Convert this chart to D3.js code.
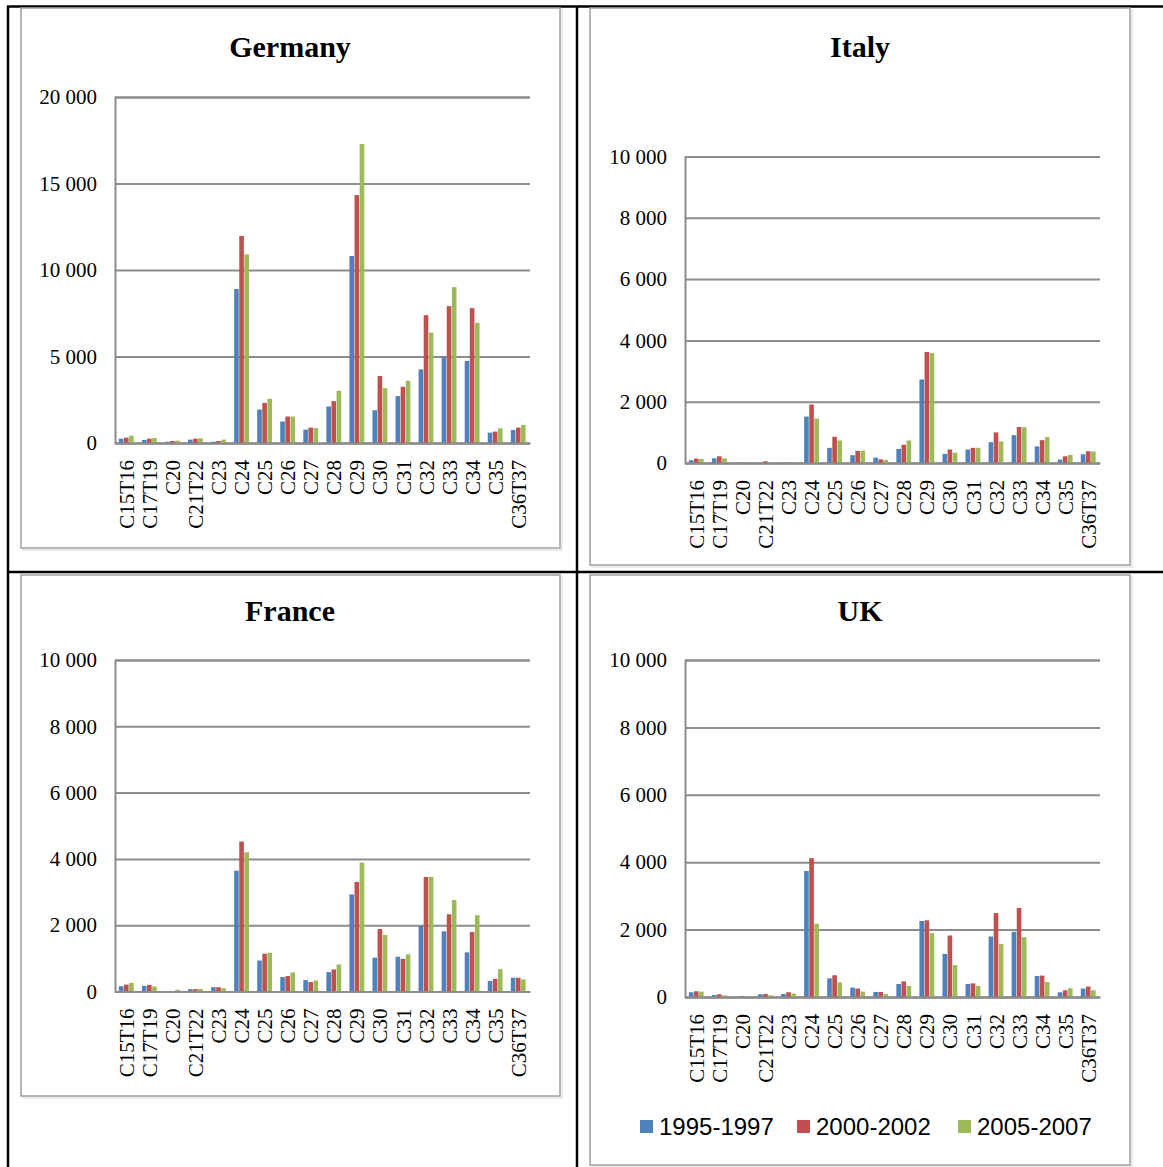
<!DOCTYPE html>
<html><head><meta charset="utf-8">
<script src="https://cdn.jsdelivr.net/npm/d3@7"></script>
<style>body{margin:0;background:#fff}svg{display:block}</style>
</head><body>
<svg id="c" width="1163" height="1167"></svg>
<script>
// ---------- DATA ----------
const categories = ["C15T16","C17T19","C20","C21T22","C23","C24","C25","C26","C27","C28","C29","C30","C31","C32","C33","C34","C35","C36T37"];
const periods = ["1995-1997","2000-2002","2005-2007"];

const germany_1995_1997 = [250,175,75,195,75,8900,1935,1240,775,2110,10810,1895,2710,4255,4990,4740,600,755];
const germany_2000_2002 = [310,250,115,250,115,11970,2320,1530,890,2420,14330,3870,3250,7390,7910,7795,660,890];
const germany_2005_2007 = [425,290,135,270,195,10910,2555,1530,870,3020,17280,3170,3600,6380,9010,6945,850,1045];

const italy_1995_1997 = [90,155,5,10,10,1515,495,255,175,460,2725,295,440,680,910,540,110,285];
const italy_2000_2002 = [145,220,10,55,10,1910,855,395,120,595,3620,440,495,1000,1175,745,220,385];
const italy_2005_2007 = [130,155,20,10,10,1450,735,405,100,735,3590,340,495,705,1165,845,265,375];

const france_1995_1997 = [160,170,10,70,130,3645,935,435,345,585,2930,1020,1050,1975,1815,1180,320,415];
const france_2000_2002 = [210,200,15,70,130,4525,1140,465,285,665,3305,1885,985,3455,2330,1795,385,415];
const france_2005_2007 = [260,150,55,80,100,4200,1170,575,335,815,3890,1705,1120,3455,2760,2305,675,365];

const uk_1995_1997 = [140,60,5,80,90,3740,555,280,150,385,2255,1280,385,1795,1935,625,140,250];
const uk_2000_2002 = [170,80,20,90,140,4120,645,250,150,465,2275,1825,405,2490,2640,635,200,310];
const uk_2005_2007 = [160,50,5,50,100,2175,435,160,90,330,1895,945,330,1570,1775,445,260,200];

const germanyTicks = [0,5000,10000,15000,20000];
const smallTicks = [0,2000,4000,6000,8000,10000];

// ---------- LAYOUT ----------
const colors = ["#4F81BD","#C0504D","#9BBB59"];
const panels = [
  {title:"Germany", series:[germany_1995_1997,germany_2000_2002,germany_2005_2007], ticks:germanyTicks,
   frame:[21,8,539,540], x0:115, x1:530, yTop:97, yBot:443, tx:290, ty:57},
  {title:"Italy", series:[italy_1995_1997,italy_2000_2002,italy_2005_2007], ticks:smallTicks,
   frame:[590,8,540,557], x0:685, x1:1100, yTop:156.5, yBot:463, tx:860, ty:57},
  {title:"France", series:[france_1995_1997,france_2000_2002,france_2005_2007], ticks:smallTicks,
   frame:[21,575,539,521], x0:115, x1:530, yTop:660, yBot:991.5, tx:290, ty:621},
  {title:"UK", series:[uk_1995_1997,uk_2000_2002,uk_2005_2007], ticks:smallTicks,
   frame:[590,575,540,590], x0:685, x1:1100, yTop:660, yBot:997, tx:860, ty:621, legend:true}
];

const svg = d3.select("#c");
const fmt = v => d3.format(",")(v).replace(/,/g, " ");
const serif = "'Liberation Serif','Times New Roman',serif";

// table lines
const tbl = svg.append("g").attr("stroke","#000").attr("stroke-width",2.5);
tbl.append("line").attr("x1",7).attr("x2",1163).attr("y1",6.5).attr("y2",6.5);
tbl.append("line").attr("x1",7).attr("x2",1163).attr("y1",572).attr("y2",572);
tbl.append("line").attr("x1",8).attr("x2",8).attr("y1",6).attr("y2",1167);
tbl.append("line").attr("x1",577).attr("x2",577).attr("y1",6).attr("y2",1167);

panels.forEach(p => {
  const g = svg.append("g");
  const [fx,fy,fw,fh] = p.frame;
  // frame shadow
  g.append("rect").attr("x",fx+2).attr("y",fy+2).attr("width",fw).attr("height",fh)
    .attr("fill","none").attr("stroke","#e4e4e4").attr("stroke-width",1.5);
  g.append("rect").attr("x",fx).attr("y",fy).attr("width",fw).attr("height",fh)
    .attr("fill","#fff").attr("stroke","#9f9f9f").attr("stroke-width",1.5);

  g.append("text").attr("x",p.tx).attr("y",p.ty).attr("text-anchor","middle")
    .attr("font-family",serif).attr("font-weight","bold").attr("font-size",30).text(p.title);

  const x = d3.scaleBand().domain(categories).range([p.x0,p.x1]).paddingInner(0.335).paddingOuter(0.1675);
  const xs = d3.scaleBand().domain(d3.range(3)).range([0,x.bandwidth()]);
  const y = d3.scaleLinear().domain([0, d3.max(p.ticks)]).range([p.yBot,p.yTop]);

  // y axis with gridlines
  const ya = g.append("g").attr("transform",`translate(${p.x0},0)`)
    .call(d3.axisLeft(y).tickValues(p.ticks).tickFormat(fmt).tickSize(-(p.x1-p.x0)).tickPadding(18));
  ya.select(".domain").attr("stroke","#8c8c8c").attr("stroke-width",2);
  ya.selectAll(".tick line").attr("stroke","#8c8c8c").attr("stroke-width",2);
  ya.selectAll(".tick text").attr("font-family",serif).attr("font-size",21).attr("fill","#000");

  // bars
  p.series.forEach((arr,si) => {
    g.append("g").selectAll("rect").data(arr).join("rect")
      .attr("x",(d,i)=>x(categories[i])+xs(si))
      .attr("width",xs.bandwidth()-0.5)
      .attr("y",d=>y(d))
      .attr("height",d=>y(0)-y(d))
      .attr("fill",colors[si]);
  });

  // x axis
  const xa = g.append("g").attr("transform",`translate(0,${p.yBot})`)
    .call(d3.axisBottom(x).tickSize(0).tickSizeOuter(0));
  xa.select(".domain").attr("stroke","#8c8c8c").attr("stroke-width",2);
  xa.selectAll(".tick text").attr("font-family",serif).attr("font-size",21).attr("fill","#000")
    .attr("transform","rotate(-90)").attr("text-anchor","end")
    .attr("x",-17).attr("y",0).attr("dy","0.35em");

  if (p.legend) {
    const lx = [640,797,958];
    const lg = g.append("g");
    periods.forEach((name,i) => {
      lg.append("rect").attr("x",lx[i]).attr("y",1120).attr("width",13).attr("height",13).attr("fill",colors[i]);
      lg.append("text").attr("x",lx[i]+19).attr("y",1135)
        .attr("font-family","'Liberation Sans',Arial,sans-serif").attr("font-size",24).attr("fill","#000").text(name);
    });
  }
});
</script>
</body></html>
